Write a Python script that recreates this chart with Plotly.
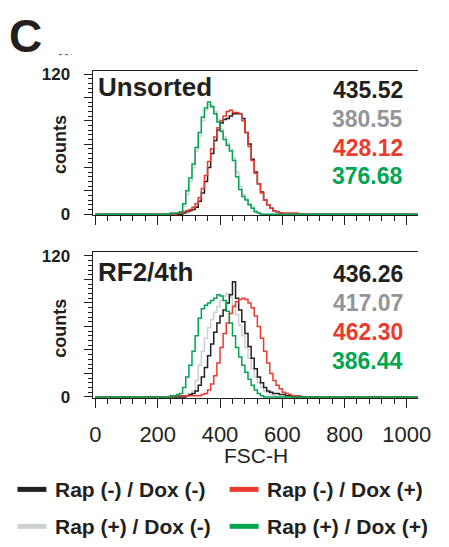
import plotly.graph_objects as go

W, H = 449, 547

# ---------------- data (histogram counts, 10-unit FSC-H bins, listed from first bin centre) -------------
BIN = 10
X_END = 1040

# Unsorted panel
top_gray_start = 245
top_gray = [0, 1, 1, 2, 7, 17, 28, 40, 54, 67, 80, 89, 94, 93, 88, 81, 73, 66, 61, 56,
            48, 36, 24, 17, 13, 9, 6, 3, 1]
top_black_start = 285
top_black = [1, 2, 3, 4, 6, 11, 18, 28, 40, 52, 63, 72, 78, 81, 82, 84, 86, 86, 86, 82,
             70, 60, 47, 36, 26, 19, 12, 8, 5, 3, 2, 1]
top_red_start = 265
top_red = [1, 1, 2, 3, 4, 6, 9, 14, 22, 33, 45, 56, 66, 74, 80, 84, 88, 89, 87, 87,
           86, 80, 70, 58, 46, 35, 26, 18, 12, 8, 5, 3, 2, 1, 1, 1, 1, 1, 1]
top_green_start = 245
top_green = [1, 1, 1, 2, 9, 20, 31, 43, 57, 70, 83, 91, 96, 92, 86, 79, 71, 64, 59, 54,
             46, 32, 21, 15, 12, 8, 5, 2, 1]

# RF2/4th panel
bot_gray_start = 285
bot_gray = [1, 1, 2, 5, 14, 27, 39, 50, 59, 66, 72, 77, 82, 86, 88, 85, 78, 70, 61, 52,
            42, 33, 24, 17, 12, 8, 5, 4, 2, 1]
bot_black_start = 295
bot_black = [1, 2, 3, 5, 10, 17, 25, 35, 45, 55, 63, 69, 74, 80, 87, 98, 84, 74, 64, 54,
             43, 33, 24, 17, 12, 8, 5, 4, 3, 3, 2, 2, 1, 1]
bot_red_start = 255
bot_red = [1, 1, 1, 1, 1, 1, 1, 1, 1, 2, 3, 6, 11, 18, 29, 42, 54, 63, 71, 77,
           81, 83, 84, 83, 80, 76, 69, 60, 50, 39, 29, 20, 14, 10, 7, 4, 3, 2, 1, 1, 1]
bot_green_start = 245
bot_green = [1, 1, 2, 3, 8, 17, 27, 39, 52, 67, 75, 78, 80, 82, 84, 87, 86, 82, 73, 63,
             52, 42, 34, 27, 21, 15, 10, 6, 3, 1]

top_means = ["435.52", "380.55", "428.12", "376.68"]
bot_means = ["436.26", "417.07", "462.30", "386.44"]
panel_labels = ["Unsorted", "RF2/4th"]
legend_labels = ["Rap (-) / Dox (-)", "Rap (-) / Dox (+)", "Rap (+) / Dox (-)", "Rap (+) / Dox (+)"]
x_ticks = [0, 200, 400, 600, 800, 1000]
y_ticks = [0, 20, 40, 60, 80, 100, 120]
y_ticktext = ["0", "", "", "", "", "", "120"]

# ---------------- styles ----------------
C_BLACK = "#231f20"
C_GRAY = "#cdd0d4"
C_GRAY_TXT = "#939598"
C_RED = "#ec3b2e"
C_GREEN = "#00a651"
FONT = "Liberation Sans"


def px(x):
    return x / W


def py(y):
    return 1 - y / H


def steps(start_center, counts):
    left = start_center - BIN / 2
    xs = [0.0] + [left + BIN * i for i in range(len(counts))] + [left + BIN * len(counts), X_END]
    ys = [0] + list(counts) + [0, 0]
    return xs, ys


fig = go.Figure()

panels = [
    ("x", "y", [(top_gray_start, top_gray, C_GRAY), (top_black_start, top_black, C_BLACK),
                (top_red_start, top_red, C_RED), (top_green_start, top_green, C_GREEN)]),
    ("x2", "y2", [(bot_gray_start, bot_gray, C_GRAY), (bot_black_start, bot_black, C_BLACK),
                  (bot_red_start, bot_red, C_RED), (bot_green_start, bot_green, C_GREEN)]),
]
for xa, ya, series in panels:
    for start, counts, col in series:
        xs, ys = steps(start, counts)
        fig.add_trace(go.Scatter(x=xs, y=ys, mode="lines", line=dict(color=col, width=1.5, shape="hv"),
                                 xaxis=xa, yaxis=ya, showlegend=False, hoverinfo="skip"))

xdom = [px(93), px(430)]
common_x = dict(range=[-9, 1035], domain=xdom, showgrid=False, zeroline=False,
                showline=True, linecolor=C_BLACK, linewidth=1.2, mirror=True,
                tickmode="array", tickvals=x_ticks, ticks="outside", ticklen=9, tickwidth=1.2,
                tickcolor=C_BLACK,
                minor=dict(dtick=40, tick0=0, ticks="outside", ticklen=5, tickwidth=1, tickcolor=C_BLACK))
common_y = dict(showgrid=False, zeroline=False, showline=True, linecolor=C_BLACK, linewidth=1.2,
                tickmode="array", tickvals=y_ticks, ticktext=y_ticktext, ticks="outside", ticklen=8,
                tickwidth=1.2, tickcolor=C_BLACK, ticklabelstandoff=10,
                tickfont=dict(family=FONT, size=17, color=C_BLACK, weight="bold"),
                minor=dict(dtick=4, tick0=0, ticks="outside", ticklen=4, tickwidth=1, tickcolor=C_BLACK))

fig.update_layout(
    width=W, height=H, margin=dict(l=0, r=0, t=0, b=0),
    paper_bgcolor="white", plot_bgcolor="white",
    font=dict(family=FONT, color=C_BLACK),
    xaxis=dict(common_x, anchor="y", showticklabels=False),
    yaxis=dict(common_y, anchor="x", range=[-1, 122.5], domain=[py(215.2), py(67)]),
    xaxis2=dict(common_x, anchor="y2", showticklabels=True, ticklabelstandoff=7,
                tickfont=dict(family=FONT, size=22, color=C_BLACK)),
    yaxis2=dict(common_y, anchor="x2", range=[-1, 123.3], domain=[py(403.2), py(253)]),
)

ann = []


def add_text(x, y, text, size, color=C_BLACK, bold=True, xanchor="left", angle=0):
    f = dict(family=FONT, size=size, color=color)
    if bold:
        f["weight"] = "bold"
    ann.append(dict(xref="paper", yref="paper", x=px(x), y=py(y), text=text, xanchor=xanchor,
                    yanchor="middle", showarrow=False, textangle=angle, font=f))


# panel letter
add_text(4, 31, "C", 46)
# panel titles
add_text(96, 83, panel_labels[0], 26)
add_text(96, 274, panel_labels[1], 26)
# y titles
for yc in (142, 331):
    add_text(59, yc, "counts", 18, xanchor="center", angle=-90)
# x title
add_text(262, 462, "FSC-H", 21, bold=False, xanchor="center")
# mean values
mean_cols = [C_BLACK, C_GRAY_TXT, C_RED, C_GREEN]
for vals, ys in ((top_means, (86, 116, 146, 175)), (bot_means, (276, 305, 335, 365))):
    for v, yv, col in zip(vals, ys, mean_cols):
        add_text(417, yv, v, 23, color=col, xanchor="right")

# legend (manual 2x2)
leg_cols = [C_BLACK, C_RED, C_GRAY, C_GREEN]
leg_pos = [(15, 497), (235, 497), (15, 535), (235, 535)]
shapes = []
for lab, col, (lx, ly) in zip(legend_labels, leg_cols, leg_pos):
    shapes.append(dict(type="line", xref="paper", yref="paper", x0=px(lx), x1=px(lx + 30),
                       y0=py(ly), y1=py(ly), line=dict(color=col, width=5)))
    add_text(lx + 37, ly, lab, 21)
# small mark near the letter
shapes.append(dict(type="line", xref="paper", yref="paper", x0=px(58), x1=px(71), y0=py(50), y1=py(50),
                   line=dict(color="#555555", width=1, dash="dot")))

fig.update_layout(annotations=ann, shapes=shapes)
fig.write_html("out.html")
